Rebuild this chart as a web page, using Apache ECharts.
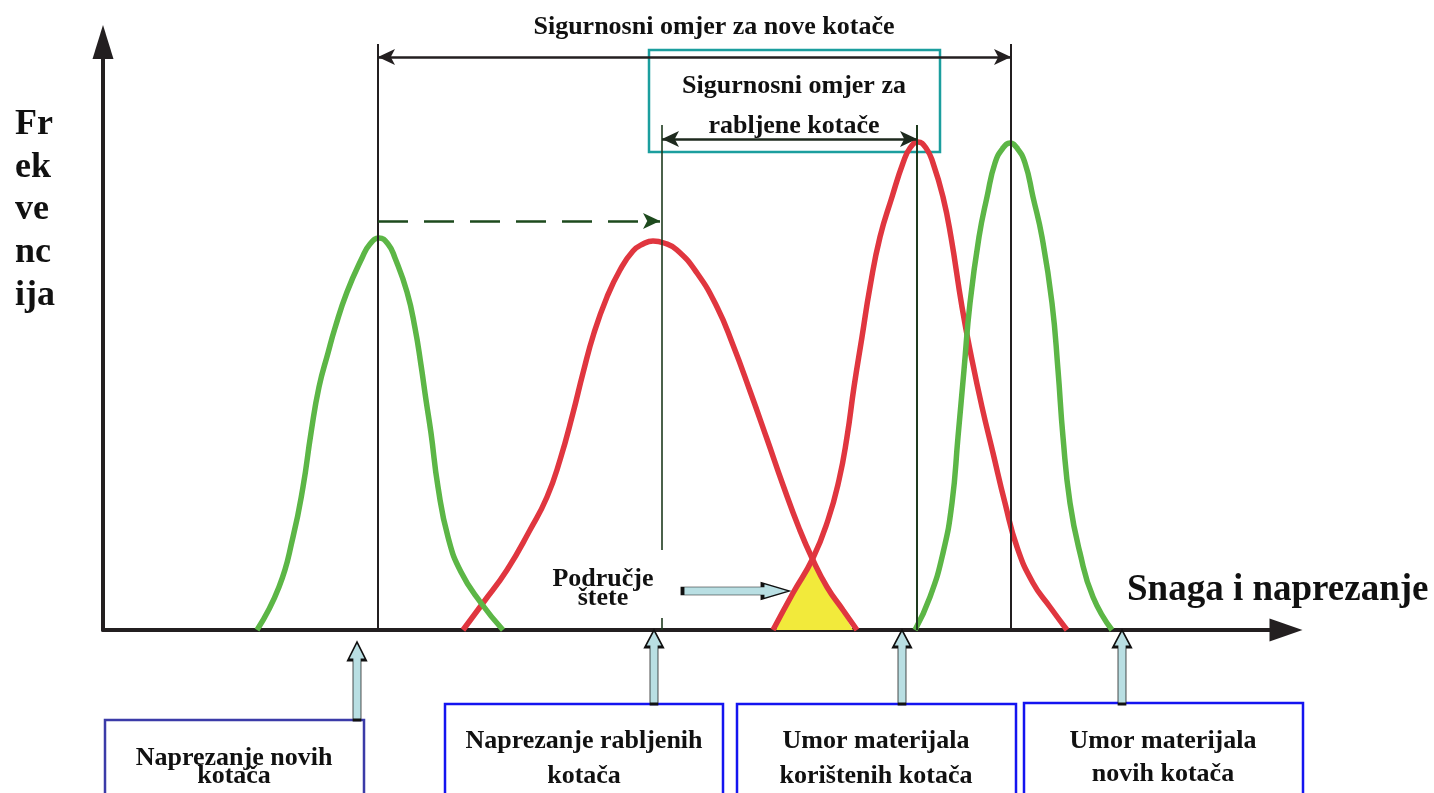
<!DOCTYPE html>
<html>
<head>
<meta charset="utf-8">
<script src="https://cdn.jsdelivr.net/npm/echarts@6/dist/echarts.min.js"></script>
<style>
html,body{margin:0;padding:0;background:#fff;}
#chart{width:1434px;height:793px;}
</style>
</head>
<body>
<div id="chart"></div>
<script>
// x = "snaga i naprezanje" (px-ish units from the y axis), y = frekvencija
var greenNew = [[154,0],[176,43],[190,93],[200,143],[208,197],[216,243],[225,277],[232,302],[244,338],[259,372],[267,386],[276,392],
    [285,386],[292,372],[304,338],[312,302],[318,265],[323,230],[328,197],[335,143],[345,93],[358,58],[378,27],[400,0]];
var redUsed = [[360,0],[380,27],[404,60],[427,100],[444,133],[457,170],[470,217],[480,257],[491,297],[504,333],[517,360],[530,379],[540,386],[550,389],
    [561,387],[574,380],[594,357],[614,323],[630,285],[647,239],[664,191],[680,145],[696,102],[709,72],[724,43],[740,20],[754,0]];
var redFatigue = [[670,0],[690,37],[710,72],[725,110],[736,150],[744,193],[751,243],[759,293],[767,343],[777,393],[789,433],[800,467],[807,482],[815,488],
    [823,482],[830,467],[840,433],[848,393],[859,323],[869,270],[879,223],[890,177],[902,127],[914,83],[930,47],[947,23],[964,0]];
var greenFatigue = [[812,0],[827,33],[840,77],[849,127],[855,193],[861,260],[867,327],[876,393],[884,433],[892,467],[900,482],[907,487],
    [914,482],[922,467],[930,433],[939,393],[949,327],[955,260],[960,193],[967,127],[977,77],[990,33],[1009,0]];
var damageArea = [[673,0],[687,30],[699,52],[710,70],[720,53],[732,30],[750,0]];

// vertical reference lines [x, yFrom, yTo]
var vLines = [[275,0,586],[559,0,12],[559,80,505],[814,0,505],[908,0,586]];
// horizontal arrows [xFrom, xTo, y]
var ratioNew = [275,908,573];
var ratioUsed = [559,814,491];
var shiftArrow = [275,557,409];
// block arrows: [x, y]
var upArrows = [[254,-51],[551,-37],[799,-37],[1019,-37]];
var damagePointer = [633,39];

var chart = echarts.init(document.getElementById('chart'));
var FONT = '"Liberation Serif","Times New Roman",serif';

function curve(data, color) {
    return {
        type: 'line', data: data, smooth: 0.5, symbol: 'none', silent: true,
        lineStyle: {color: color, width: 5.5}
    };
}
function arrow(a, color, width, dash, symbols) {
    return {
        type: 'line', data: [], silent: true,
        markLine: {
            silent: true, animation: false,
            symbol: symbols, symbolSize: [12, 17],
            label: {show: false},
            lineStyle: {color: color, width: width, type: dash ? [30, 16] : 'solid'},
            data: [[{coord: [a[0], a[2]]}, {coord: [a[1], a[2]]}]]
        }
    };
}
function label(x, base, txt, size, align) {
    return {
        type: 'text', x: x, y: base - 0.34 * size, silent: true,
        style: {
            text: txt, fill: '#111', font: 'bold ' + size + 'px ' + FONT,
            align: align || 'center', verticalAlign: 'middle',
            textAlign: align || 'center', textVerticalAlign: 'middle'
        }
    };
}
function box(x, y, w, h, color) {
    return {
        type: 'rect', silent: true, shape: {x: x, y: y, width: w, height: h},
        style: {fill: 'none', stroke: color, lineWidth: 2.5}
    };
}

var series = [
    {
        type: 'line', data: damageArea, symbol: 'none', silent: true,
        lineStyle: {width: 0}, areaStyle: {color: '#f2ea3b', opacity: 1}
    },
    curve(redUsed, '#e0363f'),
    curve(redFatigue, '#e0363f'),
    curve(greenNew, '#5cb646'),
    curve(greenFatigue, '#5cb646')
];
vLines.forEach(function (v) {
    series.push({
        type: 'line', data: [[v[0], v[1]], [v[0], v[2]]], symbol: 'none', silent: true,
        lineStyle: {color: (v[0] === 559 || v[0] === 814) ? '#1e3a1e' : '#231f20', width: (v[0] === 559) ? 1.6 : 2}
    });
});
series.push(arrow(ratioNew, '#231f20', 2.5, false, ['arrow', 'arrow']));
series.push(arrow(ratioUsed, '#1e2a1e', 2.5, false, ['arrow', 'arrow']));
series.push(arrow(shiftArrow, '#1d4a1d', 2.5, true, ['none', 'arrow']));
series.push({
    type: 'scatter', clip: false, silent: true,
    data: upArrows,
    symbol: 'path://M9,0 L18,18 L13,18 L13,78 L5,78 L5,18 L0,18 Z',
    symbolSize: function (v) { return v[1] < -40 ? [18, 78] : [18, 74]; },
    itemStyle: {color: '#b9dfe3', borderColor: '#111', borderWidth: 1.5, opacity: 1}
});
series.push({
    type: 'scatter', clip: false, silent: true,
    data: [damagePointer],
    symbol: 'path://M0,4 L80,4 L80,0 L107,8 L80,16 L80,12 L0,12 Z',
    symbolSize: [107, 16],
    itemStyle: {color: '#b9dfe3', borderColor: '#111', borderWidth: 1.5, opacity: 1}
});

var option = {
    animation: false,
    backgroundColor: '#fff',
    grid: {left: 103, top: 42, width: 1183, bottom: 163},
    xAxis: {
        type: 'value', min: 0, max: 1183,
        axisLine: {show: true, symbol: ['none', 'triangle'], symbolSize: [23, 33], lineStyle: {color: '#231f20', width: 4}},
        axisTick: {show: false}, axisLabel: {show: false}, splitLine: {show: false}
    },
    yAxis: {
        type: 'value', min: 0, max: 588,
        axisLine: {show: true, symbol: ['none', 'triangle'], symbolSize: [21, 34], lineStyle: {color: '#231f20', width: 4}},
        axisTick: {show: false}, axisLabel: {show: false}, splitLine: {show: false}
    },
    series: series,
    graphic: [
        label(714, 36, 'Sigurnosni omjer za nove kotače', 26),
        box(649, 50, 291, 102, '#1b9e9e'),
        label(794, 95, 'Sigurnosni omjer za', 26),
        label(794, 135, 'rabljene kotače', 26),
        label(15, 137, 'Fr', 36, 'left'),
        label(15, 180, 'ek', 36, 'left'),
        label(15, 222, 've', 36, 'left'),
        label(15, 265, 'nc', 36, 'left'),
        label(15, 308, 'ija', 36, 'left'),
        label(1127, 603, 'Snaga i naprezanje', 37, 'left'),
        label(603, 588, 'Područje', 26),
        label(603, 607, 'štete', 26),
        box(105, 720, 259, 100, '#3b3ba8'),
        box(445, 704, 278, 120, '#1414f0'),
        box(737, 704, 279, 120, '#1414f0'),
        box(1024, 703, 279, 120, '#1414f0'),
        label(234, 767, 'Naprezanje novih', 26),
        label(234, 785, 'kotača', 26),
        label(584, 750, 'Naprezanje rabljenih', 26),
        label(584, 785, 'kotača', 26),
        label(876, 750, 'Umor materijala', 26),
        label(876, 785, 'korištenih kotača', 26),
        label(1163, 750, 'Umor materijala', 26),
        label(1163, 783, 'novih kotača', 26)
    ]
};
chart.setOption(option);
</script>
</body>
</html>
